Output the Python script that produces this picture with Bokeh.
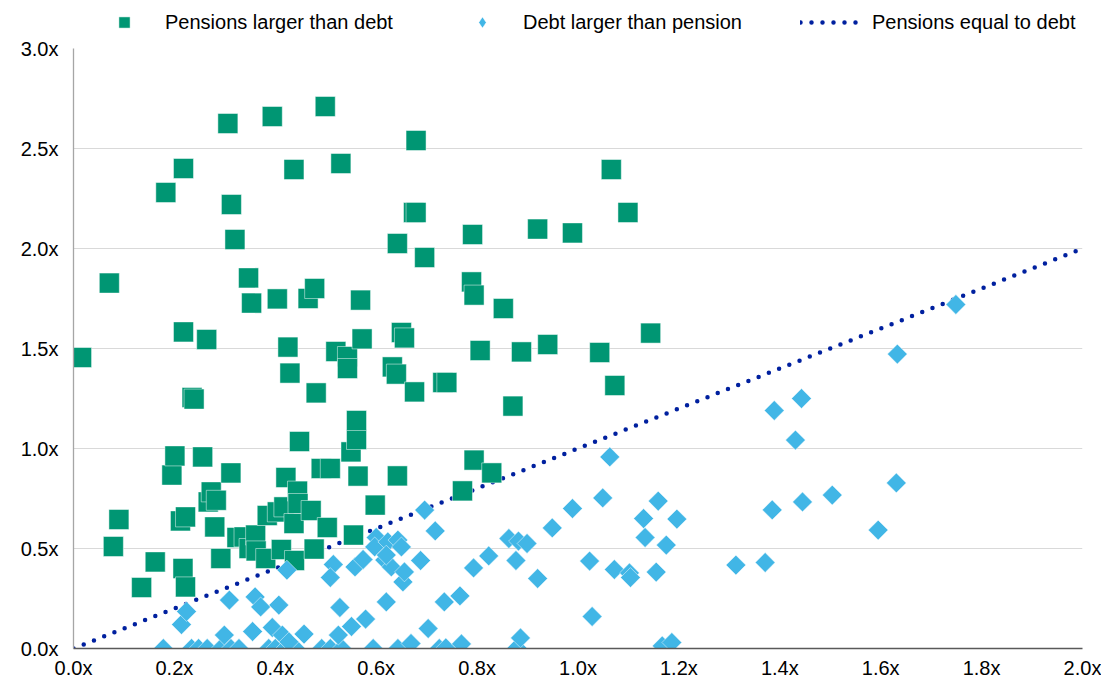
import numpy as np
from bokeh.plotting import figure
from bokeh.layouts import column
from bokeh.models import Legend, LegendItem, Range1d, FixedTicker
from bokeh.embed import file_html
from bokeh.resources import INLINE

# Pensions larger than debt (x = debt multiple, y = pension multiple)
pension_x = [0.016, 0.071, 0.090, 0.079, 0.135, 0.162, 0.183, 0.195, 0.201, 0.212, 0.222, 0.217, 0.222,
             0.218, 0.218, 0.235, 0.239, 0.256, 0.264, 0.267, 0.273, 0.283, 0.280, 0.292, 0.306, 0.312,
             0.313, 0.320, 0.324, 0.338, 0.347, 0.348, 0.353, 0.361, 0.362, 0.381, 0.384, 0.394, 0.404,
             0.404, 0.412, 0.417, 0.421, 0.425, 0.429, 0.437, 0.437, 0.438, 0.444, 0.445, 0.448, 0.465,
             0.471, 0.477, 0.478, 0.481, 0.491, 0.499, 0.503, 0.509, 0.520, 0.530, 0.543, 0.543, 0.550,
             0.555, 0.561, 0.561, 0.564, 0.569, 0.572, 0.598, 0.632, 0.640, 0.642, 0.642, 0.650, 0.656,
             0.674, 0.679, 0.676, 0.679, 0.696, 0.732, 0.740, 0.771, 0.789, 0.791, 0.794, 0.794, 0.806,
             0.829, 0.852, 0.871, 0.888, 0.920, 0.940, 0.989, 1.043, 1.066, 1.073, 1.099, 1.144]
pension_y = [1.455, 1.827, 0.645, 0.510, 0.305, 0.433, 2.280, 0.867, 0.963, 0.638, 0.658, 0.400, 0.308,
             1.583, 2.400, 1.255, 1.247, 0.958, 1.545, 0.733, 0.783, 0.741, 0.608, 0.450, 2.625, 0.878,
             2.220, 2.045, 0.555, 0.558, 1.853, 0.500, 1.727, 0.567, 0.488, 0.450, 0.665, 2.660, 1.748,
             0.683, 0.495, 0.708, 0.855, 1.507, 1.377, 2.395, 0.625, 0.440, 0.787, 0.725, 1.035, 1.750,
             0.690, 0.497, 1.800, 1.278, 0.900, 2.710, 0.605, 0.900, 1.485, 2.425, 1.460, 1.400, 0.983,
             0.567, 1.045, 1.140, 0.862, 1.742, 1.548, 0.717, 1.408, 1.372, 2.025, 0.863, 1.580, 1.553,
             2.180, 2.180, 1.283, 2.540, 1.955, 1.330, 1.330, 0.788, 1.833, 2.070, 1.767, 0.942, 1.490,
             0.878, 1.700, 1.212, 1.483, 2.097, 1.520, 2.078, 1.480, 2.395, 1.315, 2.180, 1.577]

# Debt larger than pension
debt_x = [0.178, 0.234, 0.248, 0.265, 0.292, 0.312, 0.328, 0.387, 0.400, 0.420, 0.440, 0.492, 0.509,
          0.532, 0.594, 0.643, 0.669, 0.725, 0.738, 0.769, 0.879, 0.886, 1.167, 1.186,
          0.299, 0.355, 0.394, 0.414, 0.427, 0.457, 0.525, 0.551, 0.579, 0.703, 0.214, 0.224, 0.309,
          0.360, 0.371, 0.407, 0.528, 0.620, 0.735, 0.766, 1.028,
          0.423, 0.515, 0.509, 0.558, 0.574, 0.617, 0.630, 0.653, 0.656, 0.600, 0.597, 0.623, 0.643,
          0.650, 0.620, 0.696, 0.717, 0.688, 0.793, 0.823, 0.863, 0.882, 0.899, 0.877, 0.920, 0.949,
          0.989, 1.049, 1.063, 1.023, 1.072, 1.102, 1.104, 1.155, 1.130, 1.133, 1.159, 1.175, 1.196,
          1.313, 1.371, 1.385, 1.389, 1.431, 1.443, 1.445, 1.504, 1.595, 1.631, 1.633, 1.749]
debt_y = [0.000, 0.000, 0.000, 0.000, 0.000, 0.000, 0.000, 0.000, 0.000, 0.000, 0.000, 0.000, 0.000,
          0.000, 0.000, 0.000, 0.025, 0.000, 0.003, 0.023, 0.003, 0.053, 0.013, 0.030,
          0.067, 0.085, 0.105, 0.067, 0.033, 0.072, 0.067, 0.110, 0.147, 0.100, 0.120, 0.185, 0.242,
          0.258, 0.208, 0.217, 0.205, 0.233, 0.233, 0.263, 0.160,
          0.392, 0.420, 0.355, 0.408, 0.445, 0.442, 0.408, 0.333, 0.383, 0.555, 0.508, 0.533, 0.542,
          0.508, 0.467, 0.692, 0.588, 0.440, 0.403, 0.463, 0.550, 0.537, 0.525, 0.440, 0.350, 0.603,
          0.700, 0.753, 0.958, 0.437, 0.395, 0.378, 0.355, 0.382, 0.650, 0.555, 0.737, 0.517, 0.647,
          0.417, 0.430, 0.693, 1.190, 1.042, 1.250, 0.733, 0.767, 0.592, 0.828, 1.472, 1.720]

# Pensions equal to debt
equal_x = [0.0, 2.0]
equal_y = [0.0, 2.0]

x_ticks = [0.0, 0.2, 0.4, 0.6, 0.8, 1.0, 1.2, 1.4, 1.6, 1.8, 2.0]
x_tick_labels = ["0.0x", "0.2x", "0.4x", "0.6x", "0.8x", "1.0x", "1.2x", "1.4x", "1.6x", "1.8x", "2.0x"]
y_ticks = [0.0, 0.5, 1.0, 1.5, 2.0, 2.5, 3.0]
y_tick_labels = ["0.0x", "0.5x", "1.0x", "1.5x", "2.0x", "2.5x", "3.0x"]

labels = ["Pensions larger than debt", "Debt larger than pension", "Pensions equal to debt"]

GREEN = "#009673"
BLUE = "#41B6E6"
NAVY = "#00209F"
FONT = "Liberation Sans"

sq_style = dict(marker="square", fill_color=GREEN, line_color="white", line_alpha=0.6, line_width=0.8)
dm_style = dict(fill_color=BLUE, line_color="white", line_alpha=0.6, line_width=0.8)
ln_style = dict(line_color=NAVY, line_width=4.5, line_dash="0 11", line_cap="round")

# ---------------- main chart ----------------
p = figure(frame_width=1009, frame_height=600, output_backend="svg", toolbar_location=None,
           x_range=Range1d(0, 2), y_range=Range1d(0, 3))
p.min_border_left = 73
p.min_border_right = 19
p.min_border_top = 12
p.min_border_bottom = 24
p.outline_line_color = None
p.background_fill_color = "white"
p.border_fill_color = "white"

p.line(equal_x, equal_y, **ln_style)
p.scatter(pension_x, pension_y, size=20, **sq_style)
p.scatter(debt_x, debt_y, marker="square", angle=np.pi / 4, size=14, **dm_style)

p.xaxis.ticker = FixedTicker(ticks=x_ticks)
p.yaxis.ticker = FixedTicker(ticks=y_ticks)
p.xaxis.major_label_overrides = dict(zip(x_ticks, x_tick_labels))
p.yaxis.major_label_overrides = dict(zip(y_ticks, y_tick_labels))
for ax in (p.xaxis, p.yaxis):
    ax.major_tick_line_color = None
    ax.minor_tick_line_color = None
    ax.major_label_text_font = FONT
    ax.major_label_text_font_size = "20px"
    ax.major_label_text_color = "#000000"
p.xaxis.axis_line_color = "#595959"
p.xaxis.axis_line_width = 1.3
p.yaxis.axis_line_color = "#A6A6A6"
p.yaxis.axis_line_width = 1.3
p.xaxis.major_label_standoff = 2
p.yaxis.major_label_standoff = 9

p.xgrid.grid_line_color = None
p.ygrid.grid_line_color = "#D9D9D9"
p.ygrid.grid_line_width = 1
p.ygrid.ticker = FixedTicker(ticks=y_ticks)

# ---------------- legend strip ----------------
# proxy renderers: they carry the series' styles for the legend; the view range
# keeps their marks out of sight in this strip
lg = figure(width=1101, height=36, output_backend="svg", toolbar_location=None,
            x_axis_type=None, y_axis_type=None, x_range=Range1d(-20, -19), y_range=Range1d(-20, -19))
lg.min_border_left = lg.min_border_right = lg.min_border_top = lg.min_border_bottom = 0
lg.outline_line_color = None
lg.xgrid.visible = False
lg.ygrid.visible = False
k_sq = lg.scatter(pension_x, pension_y, **sq_style)
k_dm = lg.scatter(debt_x, debt_y, marker="diamond", **dm_style)
k_ln = lg.line(equal_x, equal_y, **ln_style)

legend = Legend(items=[LegendItem(label=labels[0], renderers=[k_sq]),
                       LegendItem(label=labels[1], renderers=[k_dm]),
                       LegendItem(label=labels[2], renderers=[k_ln])],
                orientation="horizontal", location=(20, 0),
                label_text_font=FONT, label_text_font_size="20px", label_text_color="#000000",
                glyph_width=62, glyph_height=28, label_standoff=10, spacing=58,
                padding=4, margin=0, border_line_color=None, background_fill_alpha=0)
lg.add_layout(legend, "center")

layout = column(lg, p, spacing=0)
open("out.html", "w").write(file_html(layout, INLINE))
